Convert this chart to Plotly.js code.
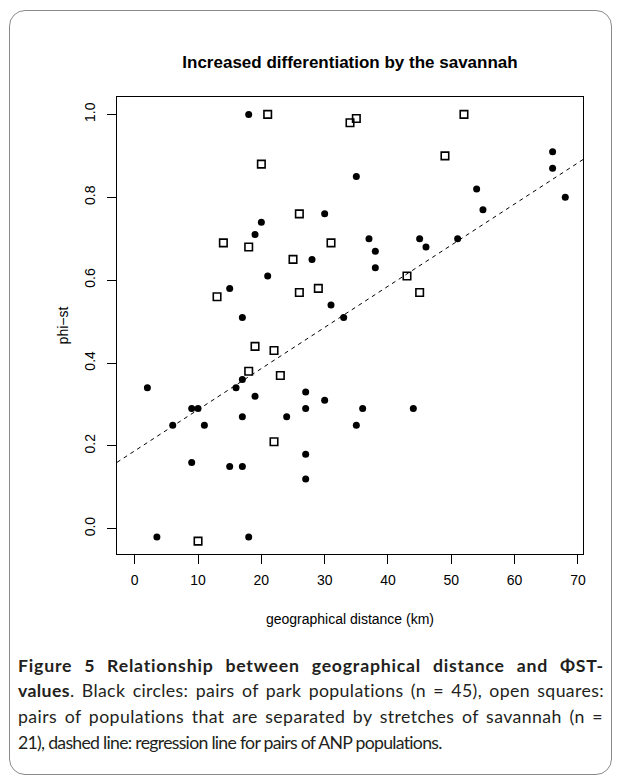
<!DOCTYPE html>
<html>
<head>
<meta charset="utf-8">
<script src="https://cdn.plot.ly/plotly-3.0.1.min.js"></script>
<style>
  html, body { margin: 0; padding: 0; background: #fff; }
  body { width: 624px; height: 782px; position: relative; overflow: hidden; }
  #frame {
    position: absolute; left: 9px; top: 10px; width: 603px; height: 765px;
    border: 1px solid #8a8a8a; border-radius: 16px; box-sizing: border-box;
  }
  #chart { position: absolute; left: 0; top: 0; width: 624px; height: 640px; }
  .cap {
    position: absolute; left: 18px; white-space: nowrap;
    font-family: "Lato", "Open Sans", sans-serif; font-size: 16px; color: #231f20;
    line-height: 1;
  }
  .b { font-weight: 700; }
</style>
</head>
<body>
<div id="frame"></div>
<div id="chart"></div>
<div class="cap b" id="l1" data-w="586" style="top:657px">Figure 5 Relationship between geographical distance and ΦST-</div>
<div class="cap" id="l2" data-w="586" style="top:682px"><span class="b">values</span>. Black circles: pairs of park populations (n = 45), open squares:</div>
<div class="cap" id="l3" data-w="585" style="top:708px">pairs of populations that are separated by stretches of savannah (n =</div>
<div class="cap" id="l4" data-w="424" style="top:734px">21), dashed line: regression line for pairs of ANP populations.</div>
<script>
// Black circles: pairs of park populations
const circleX = [18, 30, 20, 19, 28, 21, 15, 31, 17, 33,
                 66, 66, 35, 54, 68, 55, 37, 45, 51, 38,
                 46, 38, 17, 2, 16, 19, 27, 30, 9, 10,
                 27, 17, 24, 6, 11, 27, 9, 15, 17, 27,
                 3.5, 18, 36, 44, 35];
const circleY = [1.00, 0.76, 0.74, 0.71, 0.65, 0.61, 0.58, 0.54, 0.51, 0.51,
                 0.91, 0.87, 0.85, 0.82, 0.80, 0.77, 0.70, 0.70, 0.70, 0.67,
                 0.68, 0.63, 0.36, 0.34, 0.34, 0.32, 0.33, 0.31, 0.29, 0.29,
                 0.29, 0.27, 0.27, 0.25, 0.25, 0.18, 0.16, 0.15, 0.15, 0.12,
                 -0.02, -0.02, 0.29, 0.29, 0.25];
// Open squares: pairs separated by savannah
const squareX = [21, 20, 26, 14, 18, 31, 25, 13, 26, 29,
                 34, 35, 52, 49, 43, 45, 19, 22, 18, 23,
                 22, 10];
const squareY = [1.00, 0.88, 0.76, 0.69, 0.68, 0.69, 0.65, 0.56, 0.57, 0.58,
                 0.98, 0.99, 1.00, 0.90, 0.61, 0.57, 0.44, 0.43, 0.38, 0.37,
                 0.21, -0.03];
// Regression line
const regIntercept = 0.188;
const regSlope = 0.00993;
const xTicks = [0, 10, 20, 30, 40, 50, 60, 70];
const yTicks = [0.0, 0.2, 0.4, 0.6, 0.8, 1.0];

const xRange = [-2.8, 70.8];
const yRange = [-0.061, 1.042];
const H = 640;

const traces = [
  {
    x: xRange, y: xRange.map(v => regIntercept + regSlope * v),
    type: 'scatter', mode: 'lines',
    line: { color: '#000', width: 1, dash: '4px,4px' },
    hoverinfo: 'skip'
  },
  {
    x: circleX, y: circleY, type: 'scatter', mode: 'markers',
    marker: { symbol: 'circle', size: 7, color: '#000', line: { width: 0 } }
  },
  {
    x: squareX, y: squareY, type: 'scatter', mode: 'markers',
    marker: { symbol: 'square-open', size: 7.5, color: '#000', line: { width: 1.6, color: '#000' } }
  }
];

const axisFont = { family: 'Liberation Sans, Arial, Helvetica, sans-serif', size: 14, color: '#000' };

const layout = {
  width: 624, height: H,
  margin: { l: 117, r: 41, t: 97, b: H - 554 },
  paper_bgcolor: 'rgba(0,0,0,0)', plot_bgcolor: '#fff',
  showlegend: false,
  font: axisFont,
  title: {
    text: '<b>Increased differentiation by the savannah</b>',
    font: { family: 'Liberation Sans, Arial, Helvetica, sans-serif', size: 17, color: '#000' },
    xref: 'paper', x: 0.5, xanchor: 'center',
    yref: 'container', y: 1 - 62 / H, yanchor: 'middle'
  },
  xaxis: {
    range: xRange, tickvals: xTicks, ticktext: xTicks.map(String),
    showgrid: false, zeroline: false,
    showline: true, mirror: true, linecolor: '#000', linewidth: 1,
    ticks: 'outside', ticklen: 9, tickwidth: 1, tickcolor: '#000',
    ticklabelstandoff: 4,
    tickfont: axisFont,
    title: { text: 'geographical distance (km)', font: axisFont, standoff: 27 }
  },
  yaxis: {
    range: yRange, tickvals: yTicks, ticktext: yTicks.map(v => v.toFixed(1)),
    tickangle: -90,
    showgrid: false, zeroline: false,
    showline: true, mirror: true, linecolor: '#000', linewidth: 1,
    ticks: 'outside', ticklen: 9, tickwidth: 1, tickcolor: '#000',
    ticklabelstandoff: 6,
    tickfont: axisFont,
    title: { text: 'phi\u2212st', font: axisFont, standoff: 10 }
  }
};

Plotly.newPlot('chart', traces, layout, { displayModeBar: false, staticPlot: true }).then(() => {
  const caps = Array.from(document.querySelectorAll('.cap'));
  const l3 = document.getElementById('l3');
  const last = document.getElementById('l4');
  const fs3 = 16 * parseFloat(l3.dataset.w) / l3.getBoundingClientRect().width;
  const fs4 = 16 * parseFloat(last.dataset.w) / last.getBoundingClientRect().width;
  const fs = Math.sqrt(fs3 * fs4);
  caps.forEach(el => { el.style.fontSize = fs + 'px'; });
  caps.forEach(el => {
    const target = parseFloat(el.dataset.w);
    const w = el.getBoundingClientRect().width;
    const n = el.textContent.length;
    if (el === last) {
      el.style.letterSpacing = ((target - w) / n) + 'px';
      return;
    }
    const spaces = (el.textContent.match(/ /g) || []).length;
    const extra = target - w;
    el.style.letterSpacing = (0.5 * extra / n) + 'px';
    const w2 = el.getBoundingClientRect().width;
    el.style.wordSpacing = ((target - w2) / spaces) + 'px';
  });
});
</script>
</body>
</html>
